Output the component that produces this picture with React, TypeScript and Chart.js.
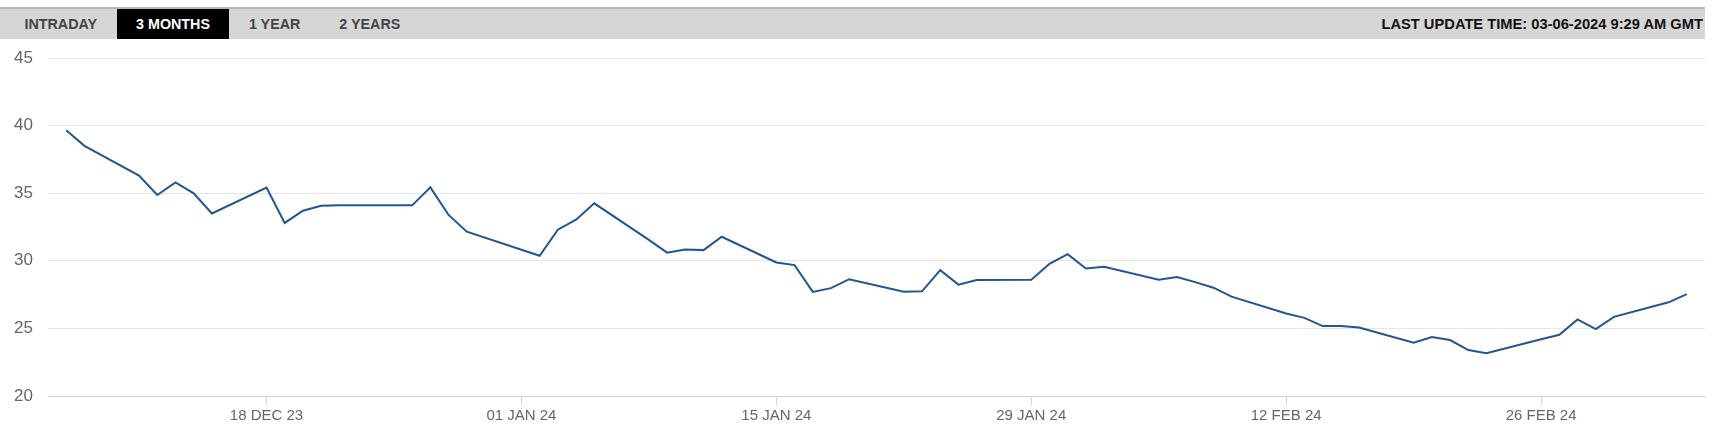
import React, { useEffect, useRef } from 'react';
import { Chart, registerables } from 'chart.js';

Chart.register(...registerables);

const dates = [
  '2023-12-07', '2023-12-08', '2023-12-11', '2023-12-12', '2023-12-13', '2023-12-14', '2023-12-15',
  '2023-12-18', '2023-12-19', '2023-12-20', '2023-12-21', '2023-12-22', '2023-12-26', '2023-12-27',
  '2023-12-28', '2023-12-29', '2024-01-02', '2024-01-03', '2024-01-04', '2024-01-05', '2024-01-08',
  '2024-01-09', '2024-01-10', '2024-01-11', '2024-01-12', '2024-01-15', '2024-01-16', '2024-01-17',
  '2024-01-18', '2024-01-19', '2024-01-22', '2024-01-23', '2024-01-24', '2024-01-25', '2024-01-26',
  '2024-01-29', '2024-01-30', '2024-01-31', '2024-02-01', '2024-02-02', '2024-02-05', '2024-02-06',
  '2024-02-07', '2024-02-08', '2024-02-09', '2024-02-12', '2024-02-13', '2024-02-14', '2024-02-15',
  '2024-02-16', '2024-02-19', '2024-02-20', '2024-02-21', '2024-02-22', '2024-02-23', '2024-02-26',
  '2024-02-27', '2024-02-28', '2024-02-29', '2024-03-01', '2024-03-04', '2024-03-05',
];

const prices = [
  39.65, 38.5, 36.3, 34.87, 35.8, 34.99, 33.5,
  35.41, 32.8, 33.7, 34.07, 34.1, 34.1, 35.43,
  33.39, 32.15, 30.37, 32.3, 33.04, 34.25, 31.55,
  30.6, 30.84, 30.79, 31.78, 29.88, 29.68, 27.7,
  27.98, 28.64, 27.72, 27.74, 29.31, 28.24, 28.58,
  28.6, 29.78, 30.49, 29.43, 29.56, 28.6, 28.8,
  28.42, 28.01, 27.35, 26.1, 25.78, 25.17, 25.17,
  25.07, 23.94, 24.36, 24.14, 23.4, 23.16, 24.2,
  24.53, 25.66, 24.95, 25.85, 26.93, 27.54,
];

const tickDates = ['2023-12-18', '2024-01-01', '2024-01-15', '2024-01-29', '2024-02-12', '2024-02-26'];
const tickLabels = ['18 DEC 23', '01 JAN 24', '15 JAN 24', '29 JAN 24', '12 FEB 24', '26 FEB 24'];
const yTicks = [20, 25, 30, 35, 40, 45];
const rangeStart = '2023-12-06';
const rangeEnd = '2024-03-06';

const tabs = ['INTRADAY', '3 MONTHS', '1 YEAR', '2 YEARS'];
const activeTab = '3 MONTHS';
const updateText = 'LAST UPDATE TIME: 03-06-2024 9:29 AM GMT';

const FONT = "'Liberation Sans', Arial, Helvetica, sans-serif";

const dayNum = (s: string) =>
  Date.UTC(+s.slice(0, 4), +s.slice(5, 7) - 1, +s.slice(8, 10)) / 86400000;

export default function App() {
  const canvasRef = useRef<HTMLCanvasElement | null>(null);

  useEffect(() => {
    const canvas = canvasRef.current;
    if (!canvas) return;
    const xs = dates.map(dayNum);
    const chart = new Chart(canvas, {
      type: 'line',
      data: {
        datasets: [
          {
            data: xs.map((x, i) => ({ x, y: prices[i] })),
            borderColor: '#23558f',
            borderWidth: 2,
            pointRadius: 0,
            tension: 0,
            fill: false,
          },
        ],
      },
      options: {
        responsive: false,
        animation: false,
        devicePixelRatio: 1,
        layout: { padding: { left: 0, right: 10, top: 18, bottom: 0 } },
        plugins: { legend: { display: false }, tooltip: { enabled: false } },
        scales: {
          x: {
            type: 'linear',
            min: dayNum(rangeStart),
            max: dayNum(rangeEnd),
            afterBuildTicks: (s: any) => {
              s.ticks = tickDates.map((d) => ({ value: dayNum(d) }));
            },
            afterFit: (s: any) => {
              s.height = 29;
              s.paddingLeft = 0;
              s.paddingRight = 0;
            },
            grid: {
              display: true,
              drawOnChartArea: false,
              drawTicks: true,
              tickLength: 9,
              color: '#ccd6eb',
              lineWidth: 1,
            },
            border: { display: true, color: '#ccd6eb', width: 1 },
            ticks: {
              autoSkip: false,
              maxRotation: 0,
              minRotation: 0,
              padding: 2,
              color: '#666666',
              font: { family: FONT, size: 15 },
              callback: (_v: any, i: number) => tickLabels[i],
            },
          },
          y: {
            type: 'linear',
            min: 20,
            max: 45,
            afterBuildTicks: (s: any) => {
              s.ticks = yTicks.map((v) => ({ value: v }));
            },
            afterFit: (s: any) => {
              s.width = 48;
              s.paddingTop = 0;
              s.paddingBottom = 0;
            },
            grid: { color: '#e6e6e6', drawTicks: false, lineWidth: 1 },
            border: { display: false },
            ticks: {
              padding: 15,
              color: '#666666',
              font: { family: FONT, size: 17 },
            },
          },
        },
      },
    });
    return () => chart.destroy();
  }, []);

  return (
    <div
      style={{
        position: 'fixed',
        left: 0,
        top: 0,
        width: 1715,
        height: 425,
        background: '#ffffff',
        fontFamily: FONT,
        overflow: 'hidden',
      }}
    >
      <div
        style={{
          position: 'absolute',
          left: 0,
          top: 7,
          width: 1705,
          height: 32,
          boxSizing: 'border-box',
          borderTop: '2px solid #b8b8b8',
          background: '#d6d6d6',
        }}
      >
        <div style={{ position: 'absolute', left: 5, top: 0, height: 30, display: 'flex' }}>
          {tabs.map((t) => (
            <div
              key={t}
              style={{
                height: 30,
                lineHeight: '30px',
                padding: '0 19.5px',
                fontWeight: 700,
                fontSize: 14.3,
                whiteSpace: 'nowrap',
                background: t === activeTab ? '#000000' : 'transparent',
                color: t === activeTab ? '#ffffff' : '#444444',
              }}
            >
              {t}
            </div>
          ))}
        </div>
        <div
          style={{
            position: 'absolute',
            right: 2,
            top: 0,
            height: 30,
            lineHeight: '30px',
            fontWeight: 700,
            fontSize: 14.7,
            color: '#111111',
            whiteSpace: 'nowrap',
          }}
        >
          {updateText}
        </div>
      </div>
      <canvas
        ref={canvasRef}
        width={1715}
        height={385}
        style={{ position: 'absolute', left: 0, top: 40, width: 1715, height: 385 }}
      />
    </div>
  );
}
